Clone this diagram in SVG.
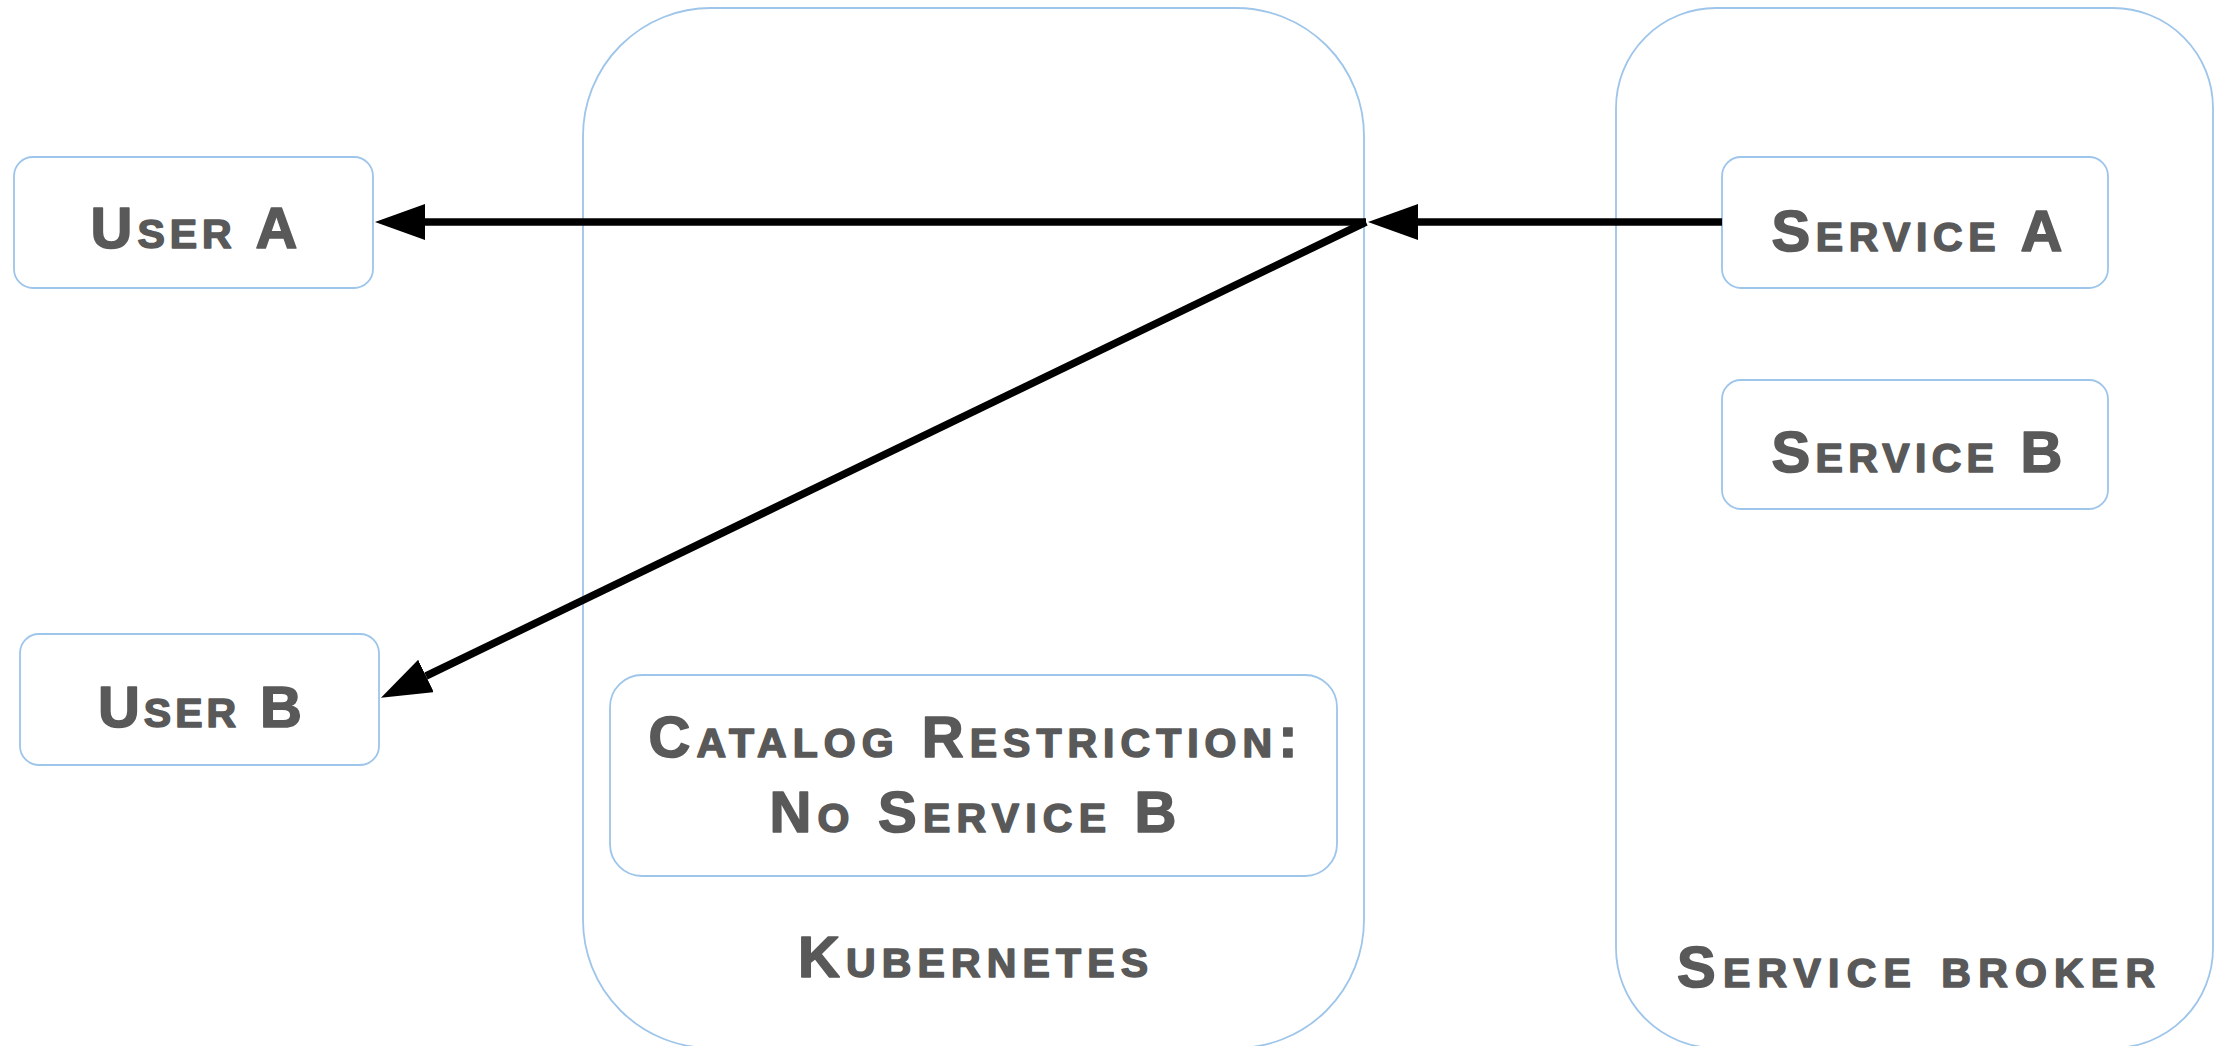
<svg xmlns="http://www.w3.org/2000/svg" width="2223" height="1046" viewBox="0 0 2223 1046">
<style>
.box{fill:#ffffff;stroke:#9ec5ea;stroke-width:1.8}
.lbl{font-family:"Liberation Sans",Arial,sans-serif;font-weight:bold;font-variant:small-caps;font-size:58px;fill:#595959;stroke:#595959;stroke-width:1.6;stroke-linejoin:round;text-anchor:middle}
.conn{stroke:#000000;stroke-width:7.5;fill:none}
</style>
<defs>
<marker id="arr" viewBox="0 0 50 36" refX="0" refY="18" markerWidth="50" markerHeight="36" markerUnits="userSpaceOnUse" orient="auto">
<path d="M0,0 L50,18 L0,36 Z" fill="#000000"/>
</marker>
</defs>
<g id="kubernetes">
<rect class="box" x="583" y="8" width="781" height="1040" rx="128" ry="128"/>
<text class="lbl" x="973" y="977" textLength="350" lengthAdjust="spacing">Kubernetes</text>
</g>
<g id="service-broker">
<rect class="box" x="1616" y="8" width="597" height="1040" rx="100" ry="100"/>
<text class="lbl" x="1916" y="987" textLength="478" lengthAdjust="spacing">Service broker</text>
</g>
<g id="user-a">
<rect class="box" x="14" y="157" width="359" height="131" rx="19" ry="19"/>
<text class="lbl" x="194" y="248" textLength="207" lengthAdjust="spacing">User A</text>
</g>
<g id="user-b">
<rect class="box" x="20" y="634" width="359" height="131" rx="19" ry="19"/>
<text class="lbl" x="200" y="727" textLength="204" lengthAdjust="spacing">User B</text>
</g>
<g id="service-a">
<rect class="box" x="1722" y="157" width="386" height="131" rx="19" ry="19"/>
<text class="lbl" x="1917" y="251" textLength="291" lengthAdjust="spacing">Service A</text>
</g>
<g id="service-b">
<rect class="box" x="1722" y="380" width="386" height="129" rx="19" ry="19"/>
<text class="lbl" x="1917" y="472" textLength="291" lengthAdjust="spacing">Service B</text>
</g>
<g id="catalog-restriction">
<rect class="box" x="610" y="675" width="727" height="201" rx="32" ry="32"/>
<text class="lbl" x="973" y="757" textLength="649" lengthAdjust="spacing">Catalog Restriction:</text>
<text class="lbl" x="973" y="832" textLength="407" lengthAdjust="spacing">No Service B</text>
</g>
<g id="connectors">
<line class="conn" x1="1722" y1="222" x2="1418" y2="222" marker-end="url(#arr)"/>
<line class="conn" x1="1366" y1="222" x2="425" y2="222" marker-end="url(#arr)"/>
<line class="conn" x1="1366" y1="222" x2="426" y2="676" marker-end="url(#arr)"/>
</g>
</svg>
